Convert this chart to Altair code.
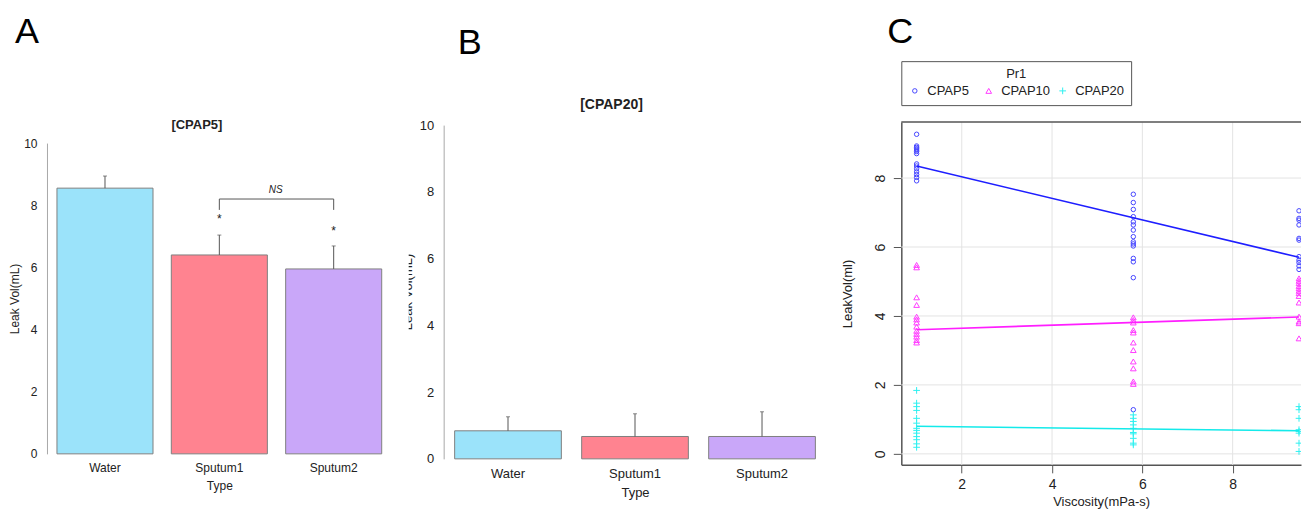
import altair as alt
import pandas as pd

# ---------------- Panel A / B data ----------------
types = ["Water", "Sputum1", "Sputum2"]
bar_colors = ["#9be3fa", "#ff8390", "#c9a7f9"]
cpap5_mean = [8.55, 6.40, 5.95]
cpap5_err = [0.39, 0.64, 0.74]
cpap20_mean = [0.84, 0.67, 0.67]
cpap20_err = [0.42, 0.68, 0.74]
bar_yticks = [0, 2, 4, 6, 8, 10]
star_types = ["Sputum1", "Sputum2"]
star_y = [7.55, 7.17]
bracket_types = ["Sputum1", "Sputum1", "Sputum2", "Sputum2"]
bracket_y = [7.85, 8.2, 8.2, 7.85]
ns_y = [8.5]

# ---------------- Panel C data ----------------
series = ["CPAP5", "CPAP10", "CPAP20"]
visc = [1.0, 5.8, 9.47]
cpap5_pts = [
    [9.27, 8.93, 8.89, 8.85, 8.81, 8.77, 8.71, 8.41, 8.35, 8.27, 8.18, 8.10, 8.02, 7.92],
    [7.53, 7.29, 7.09, 6.88, 6.73, 6.64, 6.49, 6.30, 6.15, 6.09, 6.03, 5.67, 5.57, 5.11, 1.28],
    [7.05, 6.83, 6.78, 6.64, 6.25, 6.20, 5.72, 5.62, 5.55, 5.45, 5.35],
]
cpap10_pts = [
    [5.48, 5.41, 4.54, 4.32, 3.98, 3.90, 3.81, 3.69, 3.57, 3.48, 3.40, 3.30, 3.23],
    [3.96, 3.88, 3.81, 3.59, 3.52, 3.23, 3.01, 2.68, 2.48, 2.10, 2.03],
    [5.09, 5.02, 4.95, 4.87, 4.80, 4.73, 4.66, 4.58, 4.39, 3.98, 3.84, 3.79, 3.35],
]
cpap20_pts = [
    [1.84, 1.47, 1.37, 1.26, 1.03, 0.89, 0.74, 0.68, 0.60, 0.50, 0.41, 0.29, 0.19],
    [1.13, 1.03, 0.94, 0.84, 0.74, 0.62, 0.58, 0.45, 0.31, 0.26],
    [1.37, 1.28, 1.03, 0.70, 0.65, 0.60, 0.31, 0.07],
]
fit_x = [1.0, 9.47]
fit_cpap5 = [8.35, 5.70]
fit_cpap10 = [3.60, 3.97]
fit_cpap20 = [0.80, 0.67]
xticks_c = [2, 4, 6, 8]
yticks_c = [0, 2, 4, 6, 8]
pt_colors = ["#4646ff", "#ff3cff", "#2ef0f0"]
line_colors = ["#1e1eff", "#ff1eff", "#14eaea"]
pt_shapes = ["circle", "triangle-up", "M-1,0L1,0M0,-1L0,1"]
pt_sizes = [20, 45, 64]

FONT = "Liberation Sans"
H = 502
TXT = "#222222"


def bar_panel(means, errs, W, xr, yr, yaxis_off, xaxis_off, fs, title, title_xy,
              letter, letter_xy, ylab, xtp, extra=None, ylab_clip=None):
    df = pd.DataFrame({"Type": types, "mean": means, "err": errs})
    df["top"] = df["mean"] + df["err"]
    xs = alt.Scale(domain=types, range=xr, paddingInner=0.16, paddingOuter=0)
    ys = alt.Scale(domain=[0, 10], range=yr, nice=False, zero=False)
    yaxis = alt.Axis(values=bar_yticks, ticks=False, grid=False, domainColor="#a8a8a8",
                     labelPadding=10, labelFontSize=fs, labelColor=TXT, offset=yaxis_off,
                     titleFontSize=fs, titleFontWeight="normal", titleColor=TXT,
                     titlePadding=2)
    y_enc = alt.Y("mean:Q", scale=ys, axis=yaxis, title=ylab)
    bars = alt.Chart(df).mark_bar(stroke="#808080", strokeWidth=1).encode(
        x=alt.X("Type:N", sort=types, scale=xs, title="Type",
                axis=alt.Axis(labelAngle=0, domain=False, ticks=False, labelPadding=9,
                              labelFontSize=fs, labelColor=TXT, titleFontSize=fs,
                              titleFontWeight="normal", titleColor=TXT, titlePadding=xtp,
                              offset=xaxis_off)),
        y=y_enc,
        fill=alt.Fill("Type:N", scale=alt.Scale(domain=types, range=bar_colors), legend=None),
    )
    err = alt.Chart(df).mark_rule(color="#555555", strokeWidth=1).encode(
        x=alt.X("Type:N", sort=types, scale=xs),
        y=alt.Y("mean:Q", scale=ys),
        y2="top:Q",
    )
    cap = alt.Chart(df).mark_tick(color="#555555", size=4, thickness=1).encode(
        x=alt.X("Type:N", sort=types, scale=xs),
        y=alt.Y("top:Q", scale=ys),
    )
    ttl = alt.Chart(pd.DataFrame({"t": [title]})).mark_text(
        font=FONT, fontSize=fs + 1, fontWeight="bold", color=TXT, baseline="middle"
    ).encode(text="t:N", x=alt.value(title_xy[0]), y=alt.value(title_xy[1]))
    let = alt.Chart(pd.DataFrame({"t": [letter]})).mark_text(
        font=FONT, fontSize=36, color="#000000", align="left", baseline="alphabetic"
    ).encode(text="t:N", x=alt.value(letter_xy[0]), y=alt.value(letter_xy[1]))
    layers = [bars, err, cap, ttl, let]
    if extra is not None:
        layers += extra(xs, ys)
    if ylab_clip is not None:
        layers.append(
            alt.Chart(pd.DataFrame({"t": [ylab_clip[0]]})).mark_text(
                font=FONT, fontSize=fs, color=TXT, angle=270, baseline="middle", clip=True
            ).encode(text="t:N", x=alt.value(ylab_clip[1]), y=alt.value(ylab_clip[2]))
        )
    return alt.layer(*layers).properties(width=W, height=H)


def a_extra(xs, ys):
    sdf = pd.DataFrame({"Type": star_types, "y": star_y, "s": ["*", "*"]})
    stars = alt.Chart(sdf).mark_text(font=FONT, fontSize=12, color=TXT, baseline="middle").encode(
        x=alt.X("Type:N", sort=types, scale=xs), y=alt.Y("y:Q", scale=ys), text="s:N")
    bdf = pd.DataFrame({"Type": bracket_types, "y": bracket_y, "o": [0, 1, 2, 3]})
    bracket = alt.Chart(bdf).mark_line(color="#555555", strokeWidth=1).encode(
        x=alt.X("Type:N", sort=types, scale=xs), y=alt.Y("y:Q", scale=ys), order="o:Q")
    ndf = pd.DataFrame({"y": ns_y, "s": ["NS"]})
    ns = alt.Chart(ndf).mark_text(font=FONT, fontSize=10, fontStyle="italic", color=TXT,
                                  baseline="middle").encode(
        x=alt.value(268), y=alt.Y("y:Q", scale=ys), text="s:N")
    return [stars, bracket, ns]


panel_a = bar_panel(cpap5_mean, cpap5_err, 401, [49, 374], [446, 135], -39, -(H - 446), 12,
                    "[CPAP5]", (189, 117), "A", (7, 35), "Leak Vol(mL)", 7, extra=a_extra)
panel_b = bar_panel(cpap20_mean, cpap20_err, 451, [46, 407], [451, 117], -35, -(H - 451), 13,
                    "[CPAP20]", (203, 97), "B", (49, 46), None, 6,
                    ylab_clip=("Leak Vol(mL)", -1, 284))

# ---------------- Panel C ----------------
rows = []
for name, pts in zip(series, [cpap5_pts, cpap10_pts, cpap20_pts]):
    for xv, col in zip(visc, pts):
        for v in col:
            rows.append({"Pr1": name, "Viscosity": xv, "LeakVol": v})
pts_df = pd.DataFrame(rows)
fit_rows = []
for name, fy in zip(series, [fit_cpap5, fit_cpap10, fit_cpap20]):
    for xv, yv in zip(fit_x, fy):
        fit_rows.append({"Pr1": name, "Viscosity": xv, "LeakVol": yv})
fit_df = pd.DataFrame(fit_rows)

WC = 442
x_lo = 0.661
x_hi = 9.514
xs_c = alt.Scale(domain=[x_lo, x_hi], range=[42, WC], nice=False, zero=False)
ys_c = alt.Scale(domain=[-0.319, 9.623], range=[457, 114], nice=False, zero=False)

# legend position is relative to the whole (concatenated) chart
leg = alt.Legend(title="Pr1", orient="none", legendX=894, legendY=53, direction="horizontal",
                 columns=3, gridAlign="all", strokeColor="#555555", padding=7,
                 titleAnchor="middle", titleFontSize=13, titleFontWeight="normal",
                 titleColor=TXT, titlePadding=3, labelFontSize=13, labelColor=TXT,
                 labelOffset=6, columnPadding=6, symbolStrokeWidth=1, labelFont=FONT,
                 titleFont=FONT)

points = alt.Chart(pts_df).mark_point(filled=False, strokeWidth=1, clip=True, opacity=1).encode(
    x=alt.X("Viscosity:Q", scale=xs_c, title="Viscosity(mPa-s)",
            axis=alt.Axis(values=xticks_c, offset=-(H - 457), tickSize=8, labelPadding=5,
                          labelFontSize=14, labelColor=TXT, titleFontSize=13,
                          titleFontWeight="normal", titleColor=TXT, titlePadding=4,
                          domainColor="#555555", domainWidth=1.5, tickColor="#555555",
                          grid=False)),
    y=alt.Y("LeakVol:Q", scale=ys_c, title="LeakVol(ml)",
            axis=alt.Axis(values=yticks_c, offset=-42, tickSize=8, labelAngle=270,
                          labelAlign="center", labelBaseline="bottom", labelPadding=6,
                          labelFontSize=14, labelColor=TXT, titleFontSize=13,
                          titleFontWeight="normal", titleColor=TXT, titlePadding=19,
                          domainColor="#555555", domainWidth=1.5, tickColor="#555555",
                          grid=False)),
    stroke=alt.Stroke("Pr1:N", scale=alt.Scale(domain=series, range=pt_colors), legend=leg),
    shape=alt.Shape("Pr1:N", scale=alt.Scale(domain=series, range=pt_shapes), legend=leg),
    size=alt.Size("Pr1:N", scale=alt.Scale(domain=series, range=pt_sizes), legend=leg),
)

lines = alt.Chart(fit_df).mark_line(strokeWidth=1.6, clip=True).encode(
    x=alt.X("Viscosity:Q", scale=xs_c),
    y=alt.Y("LeakVol:Q", scale=ys_c),
    color=alt.Color("Pr1:N", scale=alt.Scale(domain=series, range=line_colors), legend=None),
    detail="Pr1:N",
)

vgrid = alt.Chart(pd.DataFrame({"Viscosity": xticks_c})).mark_rule(
    color="#e3e3e3", strokeWidth=1).encode(
    x=alt.X("Viscosity:Q", scale=xs_c), y=alt.value(114), y2=alt.value(457))
hgrid = alt.Chart(pd.DataFrame({"LeakVol": yticks_c})).mark_rule(
    color="#e3e3e3", strokeWidth=1).encode(
    y=alt.Y("LeakVol:Q", scale=ys_c), x=alt.value(42), x2=alt.value(WC))
topline = alt.Chart(pd.DataFrame({"k": [0]})).mark_rule(color="#555555", strokeWidth=1.5).encode(
    x=alt.value(42), x2=alt.value(WC), y=alt.value(114))
letc = alt.Chart(pd.DataFrame({"t": ["C"]})).mark_text(
    font=FONT, fontSize=36, color="#000000", align="left", baseline="alphabetic"
).encode(text="t:N", x=alt.value(28), y=alt.value(35))

panel_c = alt.layer(vgrid, hgrid, points, lines, topline, letc).properties(width=WC, height=H)

chart = alt.hconcat(panel_a, panel_b, panel_c, spacing=0, bounds="flush").properties(
    padding=0, background="white"
).configure(font=FONT).configure_view(stroke=None)

chart.save("out.html", embed_options={"renderer": "svg", "actions": False})
